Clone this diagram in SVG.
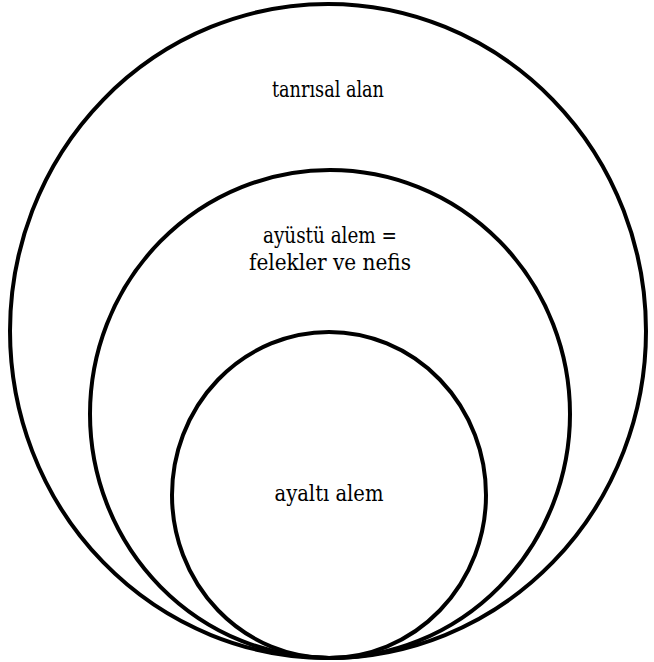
<svg xmlns="http://www.w3.org/2000/svg" width="654" height="662" viewBox="0 0 654 662">
<style>
.c{fill:none;stroke:#000;stroke-width:4}
.t{font-family:'DejaVu Serif Condensed','DejaVu Serif',serif;font-stretch:condensed;font-size:22px;fill:#000;text-anchor:middle}
</style>
<rect width="654" height="662" fill="#fff"/>
<g id="outer"><ellipse class="c" cx="328" cy="331" rx="318" ry="327"/><text class="t" x="328" y="97" textLength="112" lengthAdjust="spacingAndGlyphs">tanrısal alan</text></g>
<g id="middle"><ellipse class="c" cx="330" cy="414" rx="240" ry="244"/><text class="t" x="330" y="243" textLength="134" lengthAdjust="spacingAndGlyphs">ayüstü alem =</text><text class="t" x="330" y="270" textLength="162" lengthAdjust="spacingAndGlyphs">felekler ve nefis</text></g>
<g id="inner"><ellipse class="c" cx="329" cy="495" rx="157" ry="163"/><text class="t" x="329" y="501" textLength="109" lengthAdjust="spacingAndGlyphs">ayaltı alem</text></g>
</svg>
